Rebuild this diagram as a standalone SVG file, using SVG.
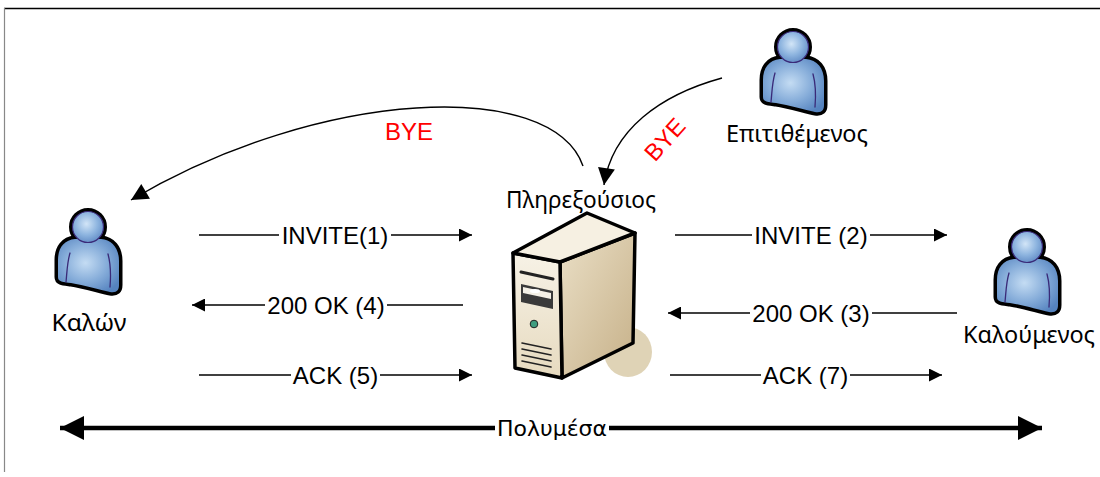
<svg xmlns="http://www.w3.org/2000/svg" width="1100" height="477" viewBox="0 0 1100 477">
  <defs>
    <style>
      .msg { font-family: "Liberation Sans", Arial, sans-serif; font-size: 24px; fill: #000; text-anchor: middle; }
      .bye { font-family: "Liberation Sans", Arial, sans-serif; font-size: 24px; fill: #ff0000; text-anchor: middle; }
      .lbl { font-family: "Noto Sans", "Open Sans", "DejaVu Sans", sans-serif; font-size: 23px; fill: #000; text-anchor: middle; }
      .media { font-family: "DejaVu Sans Condensed", "DejaVu Sans", sans-serif; font-size: 22px; fill: #000; text-anchor: middle; }
      .ln { fill: none; stroke: #000; stroke-width: 1.4; }
      .thick { fill: none; stroke: #000; stroke-width: 4.5; }
      .arm { fill: none; stroke: #3a2a78; stroke-width: 1.3; stroke-linecap: round; }
      .edge { stroke: #000; stroke-width: 3.5; stroke-linejoin: round; }
    </style>
    <marker id="ah" viewBox="0 0 10 10" refX="10" refY="5" markerUnits="userSpaceOnUse" markerWidth="22" markerHeight="13" orient="auto">
      <path d="M0,0 L10,5 L0,10 Z" fill="#000"/>
    </marker>
    <marker id="ahc" viewBox="0 0 10 10" refX="10" refY="5" markerUnits="userSpaceOnUse" markerWidth="24" markerHeight="17" orient="auto">
      <path d="M0,0 L10,5 L0,10 Z" fill="#000"/>
    </marker>
    <marker id="ahb" viewBox="0 0 10 10" refX="10" refY="5" markerUnits="userSpaceOnUse" markerWidth="30" markerHeight="24" orient="auto-start-reverse">
      <path d="M0,0 L10,5 L0,10 Z" fill="#000"/>
    </marker>
    <radialGradient id="bodyFill" cx="0.45" cy="0.45" r="0.65">
      <stop offset="0" stop-color="#c4dcf3"/>
      <stop offset="0.55" stop-color="#85acd9"/>
      <stop offset="1" stop-color="#5583bf"/>
    </radialGradient>
    <radialGradient id="headFill" cx="0.45" cy="0.4" r="0.6">
      <stop offset="0" stop-color="#d2e5f7"/>
      <stop offset="0.6" stop-color="#8db4df"/>
      <stop offset="1" stop-color="#6690c8"/>
    </radialGradient>
    <linearGradient id="frontFill" x1="0" y1="0" x2="0" y2="1">
      <stop offset="0" stop-color="#f7f2e6"/>
      <stop offset="1" stop-color="#e6dabf"/>
    </linearGradient>
    <linearGradient id="sideFill" x1="0" y1="0" x2="1" y2="1">
      <stop offset="0" stop-color="#eadfc6"/>
      <stop offset="1" stop-color="#c6b088"/>
    </linearGradient>
    <!-- user icon, drawn around the head centre -->
    <g id="person">
      <path d="M -13,12 C -24,13 -30,21 -30,33 L -30,50 C -30,55 -25,55 -17,56 C -4,58 12,63 22,65 C 29,66 31,63 31,58 L 31,34 C 31,21 24,13 13,12 Z" fill="none" stroke="#000" stroke-width="7" stroke-linejoin="round"/>
      <circle r="15.5" fill="none" stroke="#000" stroke-width="7"/>
      <path d="M -13,12 C -24,13 -30,21 -30,33 L -30,50 C -30,55 -25,55 -17,56 C -4,58 12,63 22,65 C 29,66 31,63 31,58 L 31,34 C 31,21 24,13 13,12 Z" fill="url(#bodyFill)"/>
      <circle r="15.5" fill="url(#headFill)" stroke="#3a2a78" stroke-width="1.2"/>
      <path class="arm" d="M -18,26 C -21,36 -21,46 -22,55"/>
      <path class="arm" d="M 20,27 C 23,38 23,48 22,60"/>
    </g>
  </defs>

  <rect width="1100" height="477" fill="#fff"/>

  <!-- frame -->
  <g id="frame">
    <line x1="4" y1="8.5" x2="1100" y2="8.5" stroke="#000" stroke-width="1.5"/>
    <line x1="4.5" y1="8" x2="4.5" y2="472" stroke="#888" stroke-width="1.2"/>
  </g>

  <!-- connectors -->
  <g id="connectors">
    <path class="ln" d="M199,235 H279"/>
    <path class="ln" d="M391,235 H472" marker-end="url(#ah)"/>
    <path class="ln" d="M463,305 H387"/>
    <path class="ln" d="M265,305 H192" marker-end="url(#ah)"/>
    <path class="ln" d="M199,375 H291"/>
    <path class="ln" d="M380,375 H472" marker-end="url(#ah)"/>

    <path class="ln" d="M675,235 H752"/>
    <path class="ln" d="M870,235 H947" marker-end="url(#ah)"/>
    <path class="ln" d="M957,313 H872"/>
    <path class="ln" d="M750,313 H668" marker-end="url(#ah)"/>
    <path class="ln" d="M670,375 H761"/>
    <path class="ln" d="M850,375 H942" marker-end="url(#ah)"/>

    <path class="ln" d="M583,166 C 552,78 320,88 131,200" marker-end="url(#ahc)"/>
    <path class="ln" d="M722,78 C 660,95 612,130 604,185" marker-end="url(#ahc)"/>

    <path class="thick" d="M60,428 H495" marker-start="url(#ahb)"/>
    <path class="thick" d="M609,428 H1042" marker-end="url(#ahb)"/>

    <text class="msg" x="335" y="243.5">INVITE(1)</text>
    <text class="msg" x="326" y="313.5">200 OK (4)</text>
    <text class="msg" x="335.5" y="383.5">ACK (5)</text>
    <text class="msg" x="811" y="243.5">INVITE (2)</text>
    <text class="msg" x="811" y="321.5">200 OK (3)</text>
    <text class="msg" x="805.5" y="383.5">ACK (7)</text>
    <text class="bye" x="409" y="140">BYE</text>
    <text class="bye" transform="translate(671,145) rotate(-48)" x="0" y="0">BYE</text>
    <text class="media" x="552" y="436" textLength="110" lengthAdjust="spacingAndGlyphs">Πολυμέσα</text>
  </g>

  <!-- caller -->
  <g id="caller">
    <use href="#person" x="88" y="227"/>
    <text class="lbl" x="89" y="331" textLength="75" lengthAdjust="spacingAndGlyphs">Καλών</text>
  </g>

  <!-- attacker -->
  <g id="attacker">
    <use href="#person" x="793" y="47"/>
    <text class="lbl" x="797" y="142" textLength="142" lengthAdjust="spacingAndGlyphs">Επιτιθέμενος</text>
  </g>

  <!-- callee -->
  <g id="callee">
    <use href="#person" x="1027" y="247"/>
    <text class="lbl" x="1029" y="343" textLength="132" lengthAdjust="spacingAndGlyphs">Καλούμενος</text>
  </g>

  <!-- proxy server -->
  <g id="proxy">
    <text class="lbl" x="581" y="208" textLength="150" lengthAdjust="spacingAndGlyphs">Πληρεξούσιος</text>
    <ellipse cx="628" cy="352" rx="24" ry="25" fill="#dfd3b6"/>
    <polygon class="edge" points="560,262 635,233 633,343 562,378" fill="url(#sideFill)"/>
    <polygon class="edge" points="513,253 560,262 562,378 515,368" fill="url(#frontFill)"/>
    <polygon class="edge" points="513,253 587,213 635,233 560,262" fill="#f6f0e2"/>
    <!-- drive bay -->
    <path d="M521,272 L553,279" stroke="#222" stroke-width="3" stroke-linecap="round"/>
    <polygon points="521,284 553,291 553,309 521,302" fill="#3a3a3a"/>
    <polygon points="523,287 551,293 551,299 523,293" fill="#f4f0e6"/>
    <ellipse cx="535" cy="291" rx="5" ry="2" fill="#fff"/>
    <!-- power LED -->
    <circle cx="534" cy="324" r="3.8" fill="#3f9d7f" stroke="#222" stroke-width="1"/>
    <!-- vents -->
    <g stroke="#222" stroke-width="1.6" stroke-linecap="round">
      <line x1="522" y1="343" x2="551" y2="349"/>
      <line x1="522" y1="349" x2="551" y2="355"/>
      <line x1="522" y1="355" x2="551" y2="361"/>
      <line x1="522" y1="361" x2="551" y2="367"/>
    </g>
  </g>
</svg>
